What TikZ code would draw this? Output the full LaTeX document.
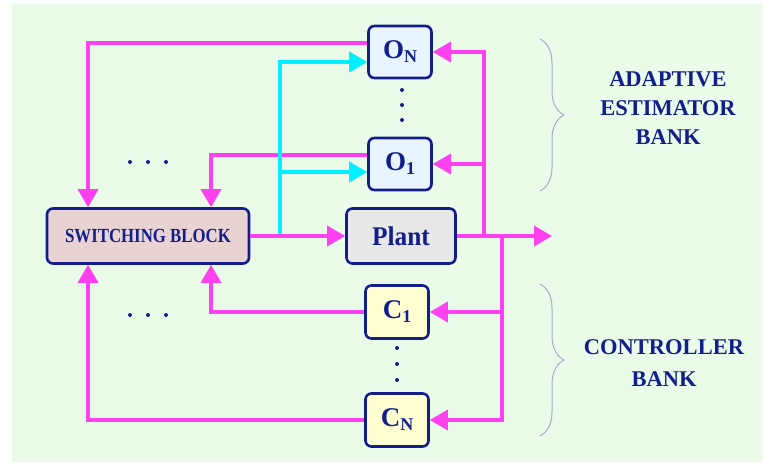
\documentclass[tikz,border=0pt]{standalone}
\usepackage{fontspec}
\setmainfont{Liberation Serif}
\usepackage{tikz}
\usetikzlibrary{arrows.meta,decorations.pathreplacing}
\definecolor{navy}{RGB}{18,30,140}
\definecolor{magentaline}{RGB}{255,64,240}
\definecolor{cyanline}{RGB}{0,240,255}
\definecolor{bgreen}{RGB}{234,251,234}
\definecolor{swfill}{RGB}{232,210,210}
\definecolor{plantfill}{RGB}{232,232,232}
\definecolor{obsfill}{RGB}{232,244,255}
\definecolor{ctlfill}{RGB}{255,255,210}
\definecolor{bracecol}{RGB}{160,172,205}
\tikzset{
  blk/.style={draw=navy,line width=2.6pt,rounded corners=6pt,text=navy,font=\bfseries,inner sep=0pt},
  sigline/.style={draw=magentaline,line width=3.2pt},
  sigarrow/.style={sigline,-{Triangle[length=18pt,width=20pt]}},
  estline/.style={draw=cyanline,line width=3.2pt,-{Triangle[length=18pt,width=20pt]}},
  bankbrace/.style={draw=bracecol,line width=1pt,decorate,decoration={brace,amplitude=24pt}},
  banktext/.style={text=navy,font=\bfseries\fontsize{22.5}{29}\selectfont,align=center}
}
\newcommand{\blksub}[2]{#1\raisebox{-4pt}{\fontsize{18}{18}\selectfont #2}}
\begin{document}
\begin{tikzpicture}[x=1pt,y=-1pt]
  \useasboundingbox (0,0) rectangle (763,466);
  \fill[bgreen] (12,4) rectangle (763,462);

  \node[blk,fill=swfill,minimum width=202pt,minimum height=55pt,font=\bfseries\fontsize{20}{22}\selectfont] (switch) at (148,236) {\scalebox{0.84}[1]{SWITCHING BLOCK}};
  \node[blk,fill=plantfill,minimum width=109pt,minimum height=55pt,font=\bfseries\fontsize{27}{29}\selectfont] (plant) at (401,236) {\scalebox{0.94}[1]{Plant}};
  \node[blk,fill=obsfill,minimum width=63pt,minimum height=52pt,font=\bfseries\fontsize{27}{29}\selectfont] (oN) at (400,52) {\blksub{O}{N}};
  \node[blk,fill=obsfill,minimum width=63pt,minimum height=52pt,font=\bfseries\fontsize{27}{29}\selectfont] (o1) at (400,164) {\blksub{O}{1}};
  \node[blk,fill=ctlfill,minimum width=63pt,minimum height=53pt,font=\bfseries\fontsize{27}{29}\selectfont] (c1) at (397,312) {\blksub{C}{1}};
  \node[blk,fill=ctlfill,minimum width=63pt,minimum height=53pt,font=\bfseries\fontsize{27}{29}\selectfont] (cN) at (397,420) {\blksub{C}{N}};

  \coordinate (tap) at (280,236);
  \coordinate (tapO1) at (280,172);
  \coordinate (fbO) at (484,236);
  \coordinate (fbC) at (502,236);
  \coordinate (out) at (552,236);

  \draw[sigarrow] ([yshift=9pt]oN.west) -| ([xshift=-60pt]switch.north);
  \draw[sigarrow] ([yshift=9pt]o1.west) -| ([xshift=63pt]switch.north);
  \draw[sigarrow] (c1.west) -| ([xshift=63pt]switch.south);
  \draw[sigarrow] (cN.west) -| ([xshift=-60pt]switch.south);

  \draw[estline] (tap) |- ([yshift=-10pt]oN.west);
  \draw[estline] (tapO1) -- ([yshift=-8pt]o1.west);

  \draw[sigarrow] (switch) -- (plant);
  \draw[sigarrow] (plant) -- (out);
  \draw[sigarrow] (fbO) |- (oN.east);
  \draw[sigarrow] (fbO |- o1.east) -- (o1.east);
  \draw[sigarrow] (fbC) |- (cN.east);
  \draw[sigarrow] (fbC |- c1.east) -- (c1.east);

  \foreach \y in {90,105,120} \fill[navy] (402,\y) circle (2pt);
  \foreach \y in {348,364,380} \fill[navy] (397,\y) circle (2pt);
  \foreach \x in {130,148,166} {
    \fill[navy] (\x,162) circle (2pt);
    \fill[navy] (\x,315) circle (2pt);
  }

  \draw[bankbrace] (540,39) -- (540,191);
  \draw[bankbrace] (540,284) -- (540,436);
  \node[banktext] (estlabel) at (668,108) {ADAPTIVE\\ESTIMATOR\\BANK};
  \node[banktext,font=\bfseries\fontsize{22.5}{32}\selectfont] (ctllabel) at (664,363) {CONTROLLER\\BANK};
\end{tikzpicture}
\end{document}
